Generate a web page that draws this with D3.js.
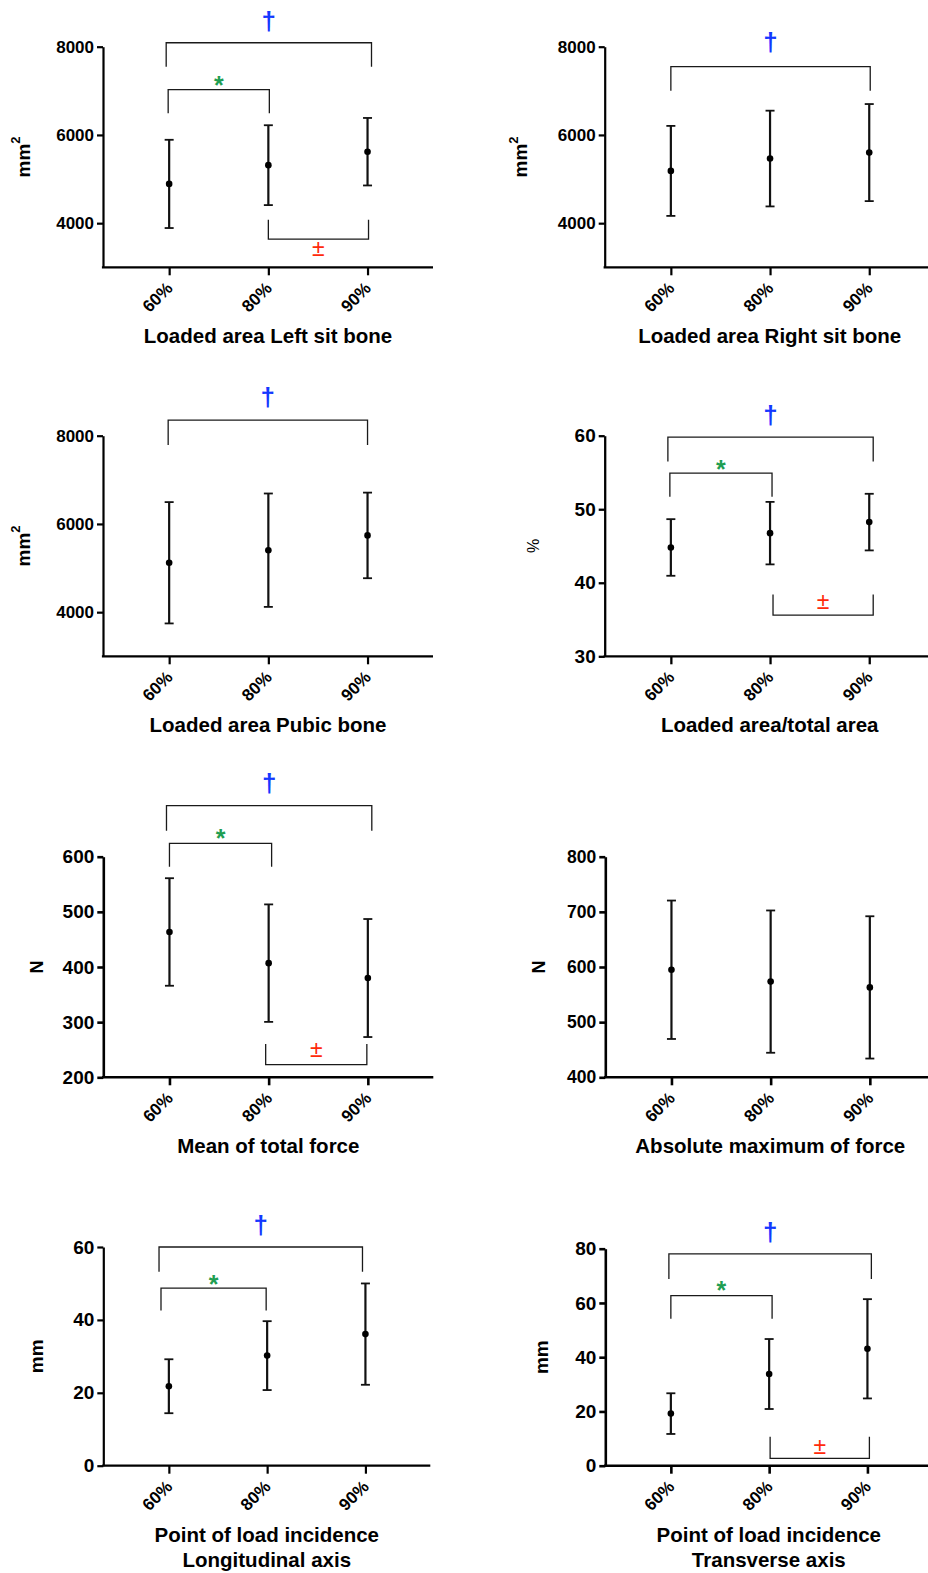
<!DOCTYPE html>
<html>
<head>
<meta charset="utf-8">
<script src="https://cdn.jsdelivr.net/npm/d3@7"></script>
<style>
  html, body { margin: 0; padding: 0; background: #fff; }
  svg { display: block; font-family: "Liberation Sans", Arial, Helvetica, sans-serif; }
</style>
</head>
<body>
<svg id="chart" width="928" height="1573"></svg>
<script>
// Saddle-fitting conditions (percentage of height)
const groups = ["60%", "80%", "90%"];

// Means and standard deviations for each measure
const leftSitMean = [4890, 5315, 5620];
const leftSitSD = [1000, 905, 765];
const rightSitMean = [5185, 5465, 5600];
const rightSitSD = [1020, 1085, 1100];
const pubicMean = [5120, 5405, 5740];
const pubicSD = [1375, 1285, 970];
const ratioMean = [44.8, 46.75, 48.25];
const ratioSD = [3.85, 4.25, 3.85];
const meanForceMean = [463.5, 407, 380];
const meanForceSD = [97.5, 106.5, 107];
const maxForceMean = [595, 573.5, 563];
const maxForceSD = [125.5, 129, 129];
const longMean = [21.8, 30.2, 36.1];
const longSD = [7.4, 9.45, 13.9];
const transMean = [19.2, 33.8, 43.1];
const transSD = [7.5, 12.9, 18.3];

// Y tick values
const areaTicks = [4000, 6000, 8000];
const ratioTicks = [30, 40, 50, 60];
const meanForceTicks = [200, 300, 400, 500, 600];
const maxForceTicks = [400, 500, 600, 700, 800];
const longTicks = [0, 20, 40, 60];
const transTicks = [0, 20, 40, 60, 80];

// Significance brackets: category span (index units), bar level, leg end and symbol level (data units)
const leftSitBrackets = [
  { sym: "†", from: -0.03, to: 2.04, bar: 8090, leg: 7547, at: 8566 },
  { sym: "*", from: -0.01, to: 1.01, bar: 7026, leg: 6492, at: 7268 },
  { sym: "±", from: 1.0, to: 2.01, bar: 3638, leg: 4075, at: 3434 }
];
const rightSitBrackets = [
  { sym: "†", from: 0, to: 2.01, bar: 7547, leg: 7003, at: 8077 }
];
const pubicBrackets = [
  { sym: "†", from: -0.01, to: 2.0, bar: 8355, leg: 7790, at: 8852 }
];
const ratioBrackets = [
  { sym: "†", from: -0.03, to: 2.04, bar: 59.8, leg: 56.5, at: 62.6 },
  { sym: "*", from: -0.01, to: 1.02, bar: 54.9, leg: 51.7, at: 56.3 },
  { sym: "±", from: 1.03, to: 2.04, bar: 35.6, leg: 38.4, at: 37.4 }
];
const meanForceBrackets = [
  { sym: "†", from: -0.03, to: 2.04, bar: 692.5, leg: 647, at: 731 },
  { sym: "*", from: 0, to: 1.03, bar: 624, leg: 582, at: 645 },
  { sym: "±", from: 0.97, to: 1.99, bar: 223, leg: 260.5, at: 249.5 }
];
const maxForceBrackets = [];
const longBrackets = [
  { sym: "†", from: -0.1, to: 1.97, bar: 60, leg: 53.2, at: 65.6 },
  { sym: "*", from: -0.08, to: 0.99, bar: 48.7, leg: 42.6, at: 51.7 }
];
const transBrackets = [
  { sym: "†", from: -0.02, to: 2.04, bar: 78.1, leg: 68.8, at: 85.7 },
  { sym: "*", from: 0, to: 1.03, bar: 62.7, leg: 54.2, at: 67 },
  { sym: "±", from: 1.01, to: 2.02, bar: 2.7, leg: 10.7, at: 7 }
];

// Symbol styles
const symbolStyle = {
  "†": { color: "#1438ff", size: 26, weight: "bold", dy: "0.3em" },
  "*": { color: "#1f9e52", size: 25, weight: "bold", dy: "0.62em" },
  "±": { color: "#ff2a0a", size: 23, weight: "normal", dy: "0.32em" }
};

// Panel layout and content (yUnit: [base text, superscript])
const panels = [
  { mean: leftSitMean, sd: leftSitSD, ticks: areaTicks, domain: [3000, 8000], brackets: leftSitBrackets,
    left: 103, width: 330, top: 46.7, bottom: 267.3, axisW: 2.2, tickFont: 17,
    yUnit: ["mm", "2"], yTitleOff: 80, yTitleBold: true, yTitleSize: 19, title: ["Loaded area Left sit bone"] },
  { mean: rightSitMean, sd: rightSitSD, ticks: areaTicks, domain: [3000, 8000], brackets: rightSitBrackets,
    left: 604.7, width: 330, top: 46.7, bottom: 267.3, axisW: 2.2, tickFont: 17,
    yUnit: ["mm", "2"], yTitleOff: 84, yTitleBold: true, yTitleSize: 19, title: ["Loaded area Right sit bone"] },
  { mean: pubicMean, sd: pubicSD, ticks: areaTicks, domain: [3000, 8000], brackets: pubicBrackets,
    left: 103, width: 330, top: 435.7, bottom: 656.3, axisW: 2.2, tickFont: 17,
    yUnit: ["mm", "2"], yTitleOff: 80, yTitleBold: true, yTitleSize: 19, title: ["Loaded area Pubic bone"] },
  { mean: ratioMean, sd: ratioSD, ticks: ratioTicks, domain: [30, 60], brackets: ratioBrackets,
    left: 604.7, width: 330, top: 435.7, bottom: 656.3, axisW: 2.3, tickFont: 19,
    yUnit: ["%", ""], yTitleOff: 71, yTitleBold: false, yTitleSize: 16, title: ["Loaded area/total area"] },
  { mean: meanForceMean, sd: meanForceSD, ticks: meanForceTicks, domain: [200, 600], brackets: meanForceBrackets,
    left: 103.3, width: 330, top: 856.7, bottom: 1077.3, axisW: 2.6, tickFont: 19,
    yUnit: ["N", ""], yTitleOff: 66.5, yTitleBold: true, yTitleSize: 18, title: ["Mean of total force"] },
  { mean: maxForceMean, sd: maxForceSD, ticks: maxForceTicks, domain: [400, 800], brackets: maxForceBrackets,
    left: 605.3, width: 330, top: 856.7, bottom: 1077.3, axisW: 2.6, tickFont: 17.5,
    yUnit: ["N", ""], yTitleOff: 67, yTitleBold: true, yTitleSize: 18, title: ["Absolute maximum of force"] },
  { mean: longMean, sd: longSD, ticks: longTicks, domain: [0, 60], brackets: longBrackets,
    left: 103.3, width: 327, top: 1247, bottom: 1465.7, axisW: 2.2, tickFont: 19,
    yUnit: ["mm", ""], yTitleOff: 67, yTitleBold: true, yTitleSize: 19,
    title: ["Point of load incidence", "Longitudinal axis"] },
  { mean: transMean, sd: transSD, ticks: transTicks, domain: [0, 80], brackets: transBrackets,
    left: 605.3, width: 327, top: 1248.7, bottom: 1465.7, axisW: 2.6, tickFont: 19,
    yUnit: ["mm", ""], yTitleOff: 64, yTitleBold: true, yTitleSize: 19,
    title: ["Point of load incidence", "Transverse axis"] }
];

const svg = d3.select("#chart");
svg.append("rect").attr("width", 928).attr("height", 1573).attr("fill", "#fff");

function drawPanel(p) {
  const x = d3.scaleLinear().domain([-0.667, 2.66]).range([p.left, p.left + p.width]);
  const y = d3.scaleLinear().domain(p.domain).range([p.bottom, p.top]);
  const g = svg.append("g");

  // Y axis
  const ya = g.append("g")
    .attr("transform", `translate(${p.left},0)`)
    .call(d3.axisLeft(y).tickValues(p.ticks).tickSize(6).tickSizeOuter(0).tickPadding(3).tickFormat(d3.format("d")));
  ya.select(".domain").attr("stroke", "#000").attr("stroke-width", p.axisW);
  ya.selectAll(".tick line").attr("stroke", "#000").attr("stroke-width", p.axisW);
  ya.selectAll(".tick text")
    .attr("fill", "#000").attr("font-size", p.tickFont).attr("font-weight", "bold")
    .attr("font-family", "'Liberation Sans', Arial, sans-serif");

  // X axis
  const xa = g.append("g")
    .attr("transform", `translate(0,${p.bottom})`)
    .call(d3.axisBottom(x).tickValues([0, 1, 2]).tickSize(8).tickSizeOuter(0).tickFormat(i => groups[i]));
  xa.select(".domain").attr("stroke", "#000").attr("stroke-width", p.axisW)
    .attr("d", `M${p.left - p.axisW / 2},0H${p.left + p.width}`);
  xa.selectAll(".tick line").attr("stroke", "#000").attr("stroke-width", p.axisW);
  xa.selectAll(".tick text")
    .attr("fill", "#000").attr("font-size", 17).attr("font-weight", "bold")
    .attr("font-family", "'Liberation Sans', Arial, sans-serif")
    .attr("text-anchor", "end")
    .attr("x", null).attr("y", null).attr("dy", null)
    .attr("transform", "translate(4,22) rotate(-45)");

  // Error bars with mean points
  const pts = groups.map((gName, i) => ({ i, m: p.mean[i], s: p.sd[i] }));
  const eb = g.append("g").attr("stroke", "#111").attr("stroke-width", 2.2);
  eb.selectAll("line.v").data(pts).join("line").attr("class", "v")
    .attr("x1", d => x(d.i)).attr("x2", d => x(d.i))
    .attr("y1", d => y(d.m - d.s)).attr("y2", d => y(d.m + d.s));
  eb.selectAll("line.capTop").data(pts).join("line").attr("class", "capTop")
    .attr("x1", d => x(d.i) - 4.5).attr("x2", d => x(d.i) + 4.5)
    .attr("y1", d => y(d.m + d.s)).attr("y2", d => y(d.m + d.s)).attr("stroke-width", 1.8);
  eb.selectAll("line.capBot").data(pts).join("line").attr("class", "capBot")
    .attr("x1", d => x(d.i) - 4.5).attr("x2", d => x(d.i) + 4.5)
    .attr("y1", d => y(d.m - d.s)).attr("y2", d => y(d.m - d.s)).attr("stroke-width", 1.8);
  g.selectAll("circle.pt").data(pts).join("circle").attr("class", "pt")
    .attr("cx", d => x(d.i)).attr("cy", d => y(d.m)).attr("r", 3.3).attr("fill", "#000");

  // Significance brackets
  const bg = g.append("g");
  bg.selectAll("path").data(p.brackets).join("path")
    .attr("fill", "none").attr("stroke", "#1a1a1a").attr("stroke-width", 1.3)
    .attr("d", b => `M${x(b.from)},${y(b.leg)}V${y(b.bar)}H${x(b.to)}V${y(b.leg)}`);
  bg.selectAll("text").data(p.brackets).join("text")
    .attr("x", b => (x(b.from) + x(b.to)) / 2)
    .attr("y", b => y(b.at))
    .attr("dy", b => symbolStyle[b.sym].dy)
    .attr("text-anchor", "middle")
    .attr("fill", b => symbolStyle[b.sym].color)
    .attr("font-size", b => symbolStyle[b.sym].size)
    .attr("font-weight", b => symbolStyle[b.sym].weight)
    .text(b => b.sym);

  // Y title (unit with optional superscript)
  const cy = (p.top + p.bottom) / 2;
  const yt = g.append("text")
    .attr("transform", `translate(${p.left - p.yTitleOff},${cy}) rotate(-90)`)
    .attr("text-anchor", "middle").attr("dy", "0.35em")
    .attr("font-size", p.yTitleSize).attr("font-weight", p.yTitleBold ? "bold" : "normal")
    .attr("fill", "#000");
  yt.append("tspan").text(p.yUnit[0]);
  if (p.yUnit[1]) {
    yt.append("tspan").attr("font-size", "0.68em").attr("dy", "-0.75em").text(p.yUnit[1]);
  }

  // X title
  const t = g.append("text")
    .attr("text-anchor", "middle")
    .attr("font-size", 20.5).attr("font-weight", "bold").attr("fill", "#000");
  p.title.forEach((line, k) => {
    t.append("tspan")
      .attr("x", p.left + p.width / 2)
      .attr("y", p.bottom + 76 + k * 25)
      .text(line);
  });
}

panels.forEach(drawPanel);
</script>
</body>
</html>
